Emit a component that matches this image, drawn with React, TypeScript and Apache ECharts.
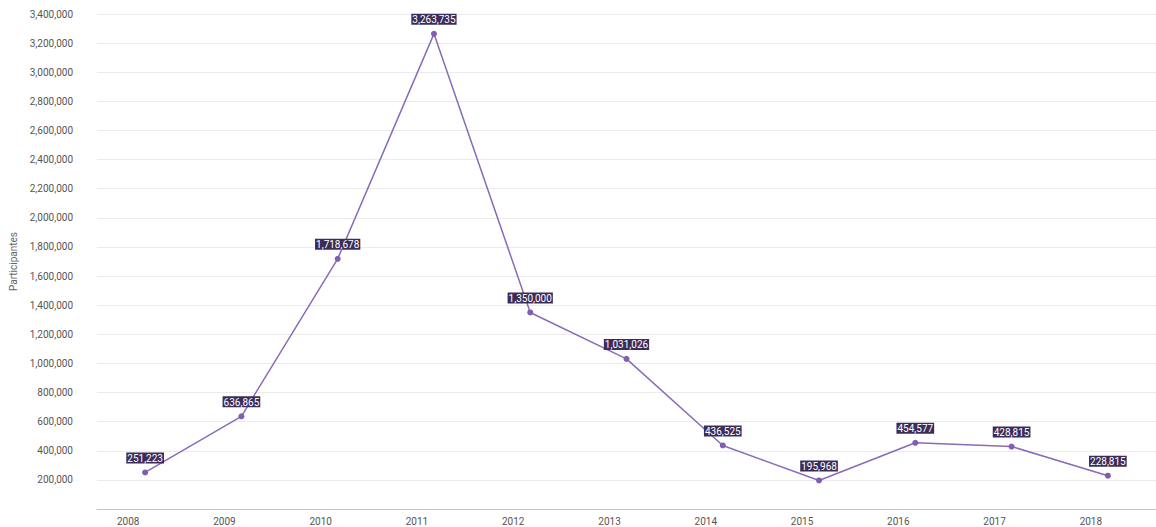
import React, { useEffect, useRef } from "react";
import * as echarts from "echarts";

const years = ["2008", "2009", "2010", "2011", "2012", "2013", "2014", "2015", "2016", "2017", "2018"];
const participants = [251223, 636865, 1718678, 3263735, 1350000, 1031026, 436525, 195968, 454577, 428815, 228815];

const fmt = (v: number) => v.toLocaleString("en-US");

export default function App() {
  const ref = useRef<HTMLDivElement>(null);
  useEffect(() => {
    if (!ref.current) return;
    const chart = echarts.init(ref.current, null, { renderer: "svg" });
    chart.setOption({
      animation: false,
      grid: { left: 93, right: -9, top: 14, bottom: 18, containLabel: false },
      xAxis: {
        type: "category",
        data: years,
        boundaryGap: true,
        axisLine: { lineStyle: { color: "#c8c8c8" } },
        axisTick: { show: false },
        axisLabel: {
          color: "#555",
          fontSize: 10,
          fontFamily: "Roboto",
          margin: 7,
          padding: [0, 34, 0, 0],
        },
      },
      yAxis: {
        type: "value",
        min: 0,
        max: 3400000,
        interval: 200000,
        name: "Participantes",
        nameLocation: "middle",
        nameGap: 79,
        nameTextStyle: { color: "#666", fontSize: 10, fontFamily: "Roboto" },
        axisLine: { show: false },
        axisTick: { show: false },
        splitLine: { lineStyle: { color: "#ebebeb", width: 1 } },
        axisLabel: {
          color: "#555",
          fontSize: 10,
          fontFamily: "Roboto",
          margin: 24,
          formatter: (v: number) => (v === 0 ? "" : fmt(v)),
        },
      },
      series: [
        {
          type: "line",
          data: participants,
          symbol: "circle",
          symbolSize: 6,
          lineStyle: { color: "#8a6bb8", width: 1.5 },
          itemStyle: { color: "#7f5fb0" },
          label: {
            show: true,
            position: "top",
            distance: 6,
            formatter: (p: any) => fmt(p.value),
            color: "#fff",
            fontSize: 10,
            fontFamily: "Roboto",
            backgroundColor: "#3b2c5a",
            padding: [1, 1, 0, 1],
          },
        },
      ],
    });
    return () => chart.dispose();
  }, []);
  return (
    <div
      ref={ref}
      style={{ position: "absolute", left: 0, top: 0, width: 1156, height: 527, background: "#fff" }}
    />
  );
}
